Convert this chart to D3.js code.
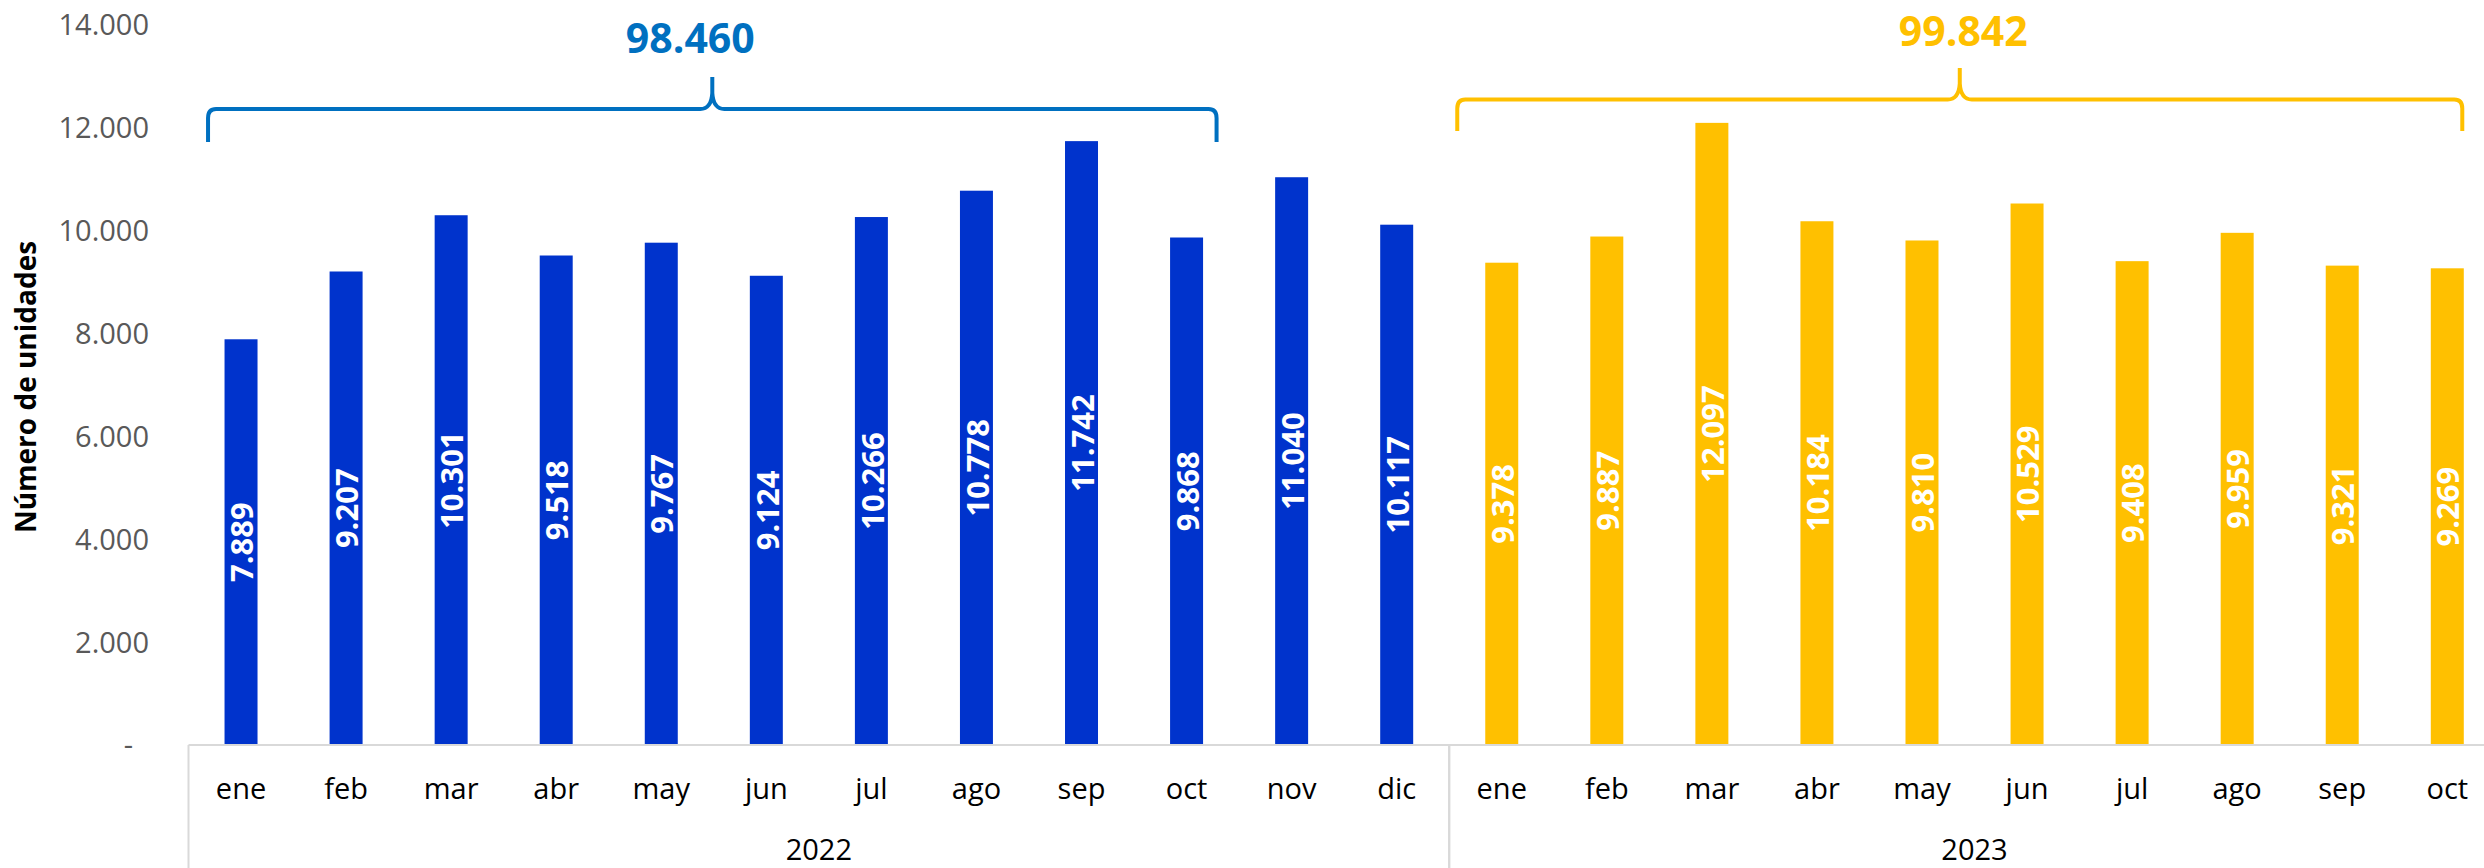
<!DOCTYPE html>
<html lang="es">
<head>
  <meta charset="UTF-8">
  <title>Número de unidades por mes</title>
  <style>
    html, body { margin: 0; padding: 0; background: #fff; }
    svg { display: block; font-family: 'Open Sans', sans-serif; }
  </style>
</head>
<body>
  <svg id="chart" width="2484" height="868"></svg>

  <script src="https://cdn.jsdelivr.net/npm/d3@7"></script>
  <script>
    // Data
    const years = ['2022', '2023']
    const months2022 = ['ene', 'feb', 'mar', 'abr', 'may', 'jun', 'jul', 'ago', 'sep', 'oct', 'nov', 'dic']
    const values2022 = [7889, 9207, 10301, 9518, 9767, 9124, 10266, 10778, 11742, 9868, 11040, 10117]
    const months2023 = ['ene', 'feb', 'mar', 'abr', 'may', 'jun', 'jul', 'ago', 'sep', 'oct']
    const values2023 = [9378, 9887, 12097, 10184, 9810, 10529, 9408, 9959, 9321, 9269]
    const yTicks = [0, 2000, 4000, 6000, 8000, 10000, 12000, 14000]
    // months summed under each brace (ene..oct)
    const bracedMonths = 10

    const colors = { '2022': '#0033cc', '2023': '#ffc000' }
    const braceColors = { '2022': '#0070c0', '2023': '#ffc000' }

    const locale = d3.formatLocale({ decimal: ',', thousands: '.', grouping: [3], currency: ['', ''] })
    const fmt = locale.format(',d')

    // flatten into one row per bar
    const rows = []
    months2022.forEach((m, i) => rows.push({ key: '2022-' + m, year: '2022', month: m, value: values2022[i] }))
    months2023.forEach((m, i) => rows.push({ key: '2023-' + m, year: '2023', month: m, value: values2023[i] }))

    const svg = d3.select('#chart')

    const xLeft = 188.5
    const step = 105.06
    const baseY = 745

    const x = d3.scaleBand()
      .domain(rows.map(d => d.key))
      .range([xLeft, xLeft + step * rows.length])
      .paddingInner(0.686)
      .paddingOuter(0.343)

    const y = d3.scaleLinear()
      .domain([0, 14000])
      .range([baseY, 25])

    // Y tick labels
    svg.append('g')
      .selectAll('text')
      .data(yTicks)
      .join('text')
      .attr('x', d => d === 0 ? 133 : 149)
      .attr('y', d => y(d))
      .attr('dy', '0.36em')
      .attr('text-anchor', 'end')
      .attr('font-size', 29)
      .attr('fill', '#595959')
      .text(d => d === 0 ? '-' : fmt(d))

    // Y title
    svg.append('text')
      .attr('transform', 'translate(36, 387) rotate(-90)')
      .attr('text-anchor', 'middle')
      .attr('font-size', 28)
      .attr('font-weight', 700)
      .attr('fill', '#000')
      .text('Número de unidades')

    // Bars
    svg.append('g')
      .selectAll('rect')
      .data(rows)
      .join('rect')
      .attr('x', d => x(d.key))
      .attr('y', d => y(d.value))
      .attr('width', x.bandwidth())
      .attr('height', d => baseY - y(d.value))
      .attr('fill', d => colors[d.year])

    // Value labels inside bars
    svg.append('g')
      .selectAll('text')
      .data(rows)
      .join('text')
      .attr('transform', d => `translate(${x(d.key) + x.bandwidth() / 2 + 1}, ${(y(d.value) + baseY) / 2}) rotate(-90)`)
      .attr('text-anchor', 'middle')
      .attr('dy', '0.36em')
      .attr('font-size', 31)
      .attr('font-weight', 700)
      .attr('fill', '#fff')
      .text(d => fmt(d.value))

    // Category axis (two levels)
    const xRight = xLeft + step * rows.length
    const axisG = svg.append('g').attr('stroke', '#d9d9d9').attr('stroke-width', 2)
    axisG.append('line').attr('x1', xLeft).attr('x2', xRight).attr('y1', baseY).attr('y2', baseY)

    const yearBounds = years.map(yr => {
      const keys = rows.filter(d => d.year === yr).map(d => d.key)
      const x0 = x(keys[0]) - x.step() * x.paddingOuter()
      const x1 = x(keys[keys.length - 1]) + x.bandwidth() + x.step() * x.paddingOuter()
      return { year: yr, x0, x1 }
    })
    yearBounds.forEach(b => {
      axisG.append('line').attr('x1', b.x0).attr('x2', b.x0).attr('y1', baseY).attr('y2', 868)
      axisG.append('line').attr('x1', b.x1).attr('x2', b.x1).attr('y1', baseY).attr('y2', 868)
    })

    svg.append('g')
      .selectAll('text')
      .data(rows)
      .join('text')
      .attr('x', d => x(d.key) + x.bandwidth() / 2)
      .attr('y', 799)
      .attr('text-anchor', 'middle')
      .attr('font-size', 29)
      .attr('fill', '#000')
      .text(d => d.month)

    svg.append('g')
      .selectAll('text')
      .data(yearBounds)
      .join('text')
      .attr('x', d => (d.x0 + d.x1) / 2)
      .attr('y', 860)
      .attr('text-anchor', 'middle')
      .attr('font-size', 29)
      .attr('fill', '#000')
      .text(d => d.year)

    // Braces with totals
    const braces = [
      { year: '2022', left: -16.5, right: 13.5, end: 142, line: 109, tip: 77, labelY: 53, labelDx: -22 },
      { year: '2023', left: -28, right: -1.5, end: 131, line: 99.5, tip: 68, labelY: 46, labelDx: 3.5 }
    ]

    braces.forEach(b => {
      const keys = rows.filter(d => d.year === b.year).slice(0, bracedMonths)
      const total = d3.sum(keys, d => d.value)
      const x0 = x(keys[0].key) + b.left
      const x1 = x(keys[keys.length - 1].key) + x.bandwidth() + b.right
      const tx = (x0 + x1) / 2
      const p = d3.path()
      p.moveTo(x0, b.end)
      p.lineTo(x0, b.line + 9)
      p.quadraticCurveTo(x0, b.line, x0 + 8, b.line)
      p.lineTo(tx - 12, b.line)
      p.quadraticCurveTo(tx - 1, b.line, tx, b.line - 16)
      p.lineTo(tx, b.tip)
      p.moveTo(tx, b.line - 16)
      p.quadraticCurveTo(tx + 1, b.line, tx + 12, b.line)
      p.lineTo(x1 - 8, b.line)
      p.quadraticCurveTo(x1, b.line, x1, b.line + 9)
      p.lineTo(x1, b.end)

      svg.append('path')
        .attr('d', p.toString())
        .attr('fill', 'none')
        .attr('stroke', braceColors[b.year])
        .attr('stroke-width', 4)

      svg.append('text')
        .attr('x', tx + b.labelDx)
        .attr('y', b.labelY)
        .attr('text-anchor', 'middle')
        .attr('font-size', 41)
        .attr('font-weight', 700)
        .attr('fill', braceColors[b.year])
        .text(fmt(total))
    })
  </script>
</body>
</html>
